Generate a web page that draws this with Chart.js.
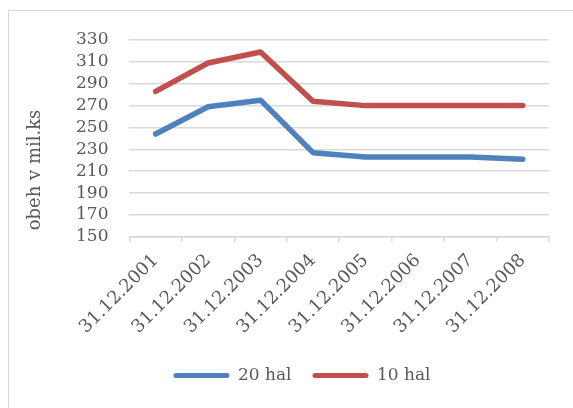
<!DOCTYPE html>
<html>
<head>
<meta charset="utf-8">
<script src="https://cdn.jsdelivr.net/npm/chart.js@4"></script>
<style>
  body { margin: 0; background: #fff; }
  #frame { position: absolute; left: 8px; top: 10px; width: 700px; height: 500px; border: 1px solid #d9d9d9; }
  #myChart { position: absolute; left: 0; top: 0; }
</style>
</head>
<body>
<div id="frame"></div>
<canvas id="myChart" width="573" height="408"></canvas>
<script>
// dates (kategorie)
const dates = ['31.12.2001', '31.12.2002', '31.12.2003', '31.12.2004',
               '31.12.2005', '31.12.2006', '31.12.2007', '31.12.2008'];

// obeh v mil. ks
const hal20 = [244, 269, 275, 227, 223, 223, 223, 221];
const hal10 = [283, 309, 319, 274, 270, 270, 270, 270];

const yMin = 150;
const yMax = 330;
const yStep = 20;

const axisTitle = 'obeh v mil.ks';
const textColor = '#595959';
const gridColor = '#d9d9d9';
const fontFam = '"DejaVu Serif", serif';

// titre axe y dessine a la main (centre comme dans Excel)
const yTitlePlugin = {
  id: 'yTitle',
  afterDraw(chart) {
    const ctx = chart.ctx;
    ctx.save();
    ctx.translate(35, 170);
    ctx.rotate(-Math.PI / 2);
    ctx.font = '18px ' + fontFam;
    ctx.fillStyle = textColor;
    ctx.textAlign = 'center';
    ctx.textBaseline = 'middle';
    ctx.fillText(axisTitle, 0, 0);
    ctx.restore();
  }
};

const data = {
  labels: dates,
  datasets: [{
    label: '20 hal',
    data: hal20,
    borderColor: '#4f81bd',
    backgroundColor: '#4f81bd',
    borderWidth: 5.5,
  }, {
    label: '10 hal',
    data: hal10,
    borderColor: '#c0504d',
    backgroundColor: '#c0504d',
    borderWidth: 5.5,
  }]
};

const config = {
  type: 'line',
  data: data,
  plugins: [yTitlePlugin],
  options: {
    responsive: false,
    animation: false,
    layout: { padding: { left: 55, right: 24, top: 40, bottom: 14 } },
    elements: {
      line: { tension: 0, borderCapStyle: 'round', borderJoinStyle: 'round' },
      point: { radius: 0 }
    },
    plugins: {
      legend: {
        position: 'bottom',
        labels: {
          color: textColor,
          font: { family: fontFam, size: 17 },
          boxWidth: 56,
          boxHeight: 5,
          padding: 21,
          useBorderRadius: true,
          borderRadius: 2.5,
          generateLabels(chart) {
            const items = Chart.defaults.plugins.legend.labels.generateLabels(chart);
            items.forEach(it => { it.lineWidth = 0; });
            return items;
          }
        }
      },
      tooltip: { enabled: false }
    },
    scales: {
      x: {
        offset: true,
        afterFit(scale) { scale.paddingLeft = 0; scale.paddingRight = 0; },
        grid: {
          offset: true,
          drawOnChartArea: false,
          drawTicks: true,
          tickLength: 5,
          tickColor: gridColor,
          lineWidth: 1.5
        },
        border: { display: true, color: gridColor, width: 1.5 },
        ticks: {
          color: textColor,
          font: { family: fontFam, size: 18 },
          maxRotation: 45,
          minRotation: 45,
          autoSkip: false,
          padding: 8
        }
      },
      y: {
        min: yMin,
        max: yMax,
        grid: { color: gridColor, lineWidth: 1.5, drawTicks: false },
        border: { display: false },
        ticks: {
          stepSize: yStep,
          autoSkip: false,
          color: textColor,
          font: { family: fontFam, size: 17 },
          padding: 21
        }
      }
    }
  }
};

const myChart = new Chart(document.getElementById('myChart'), config);
</script>
</body>
</html>
